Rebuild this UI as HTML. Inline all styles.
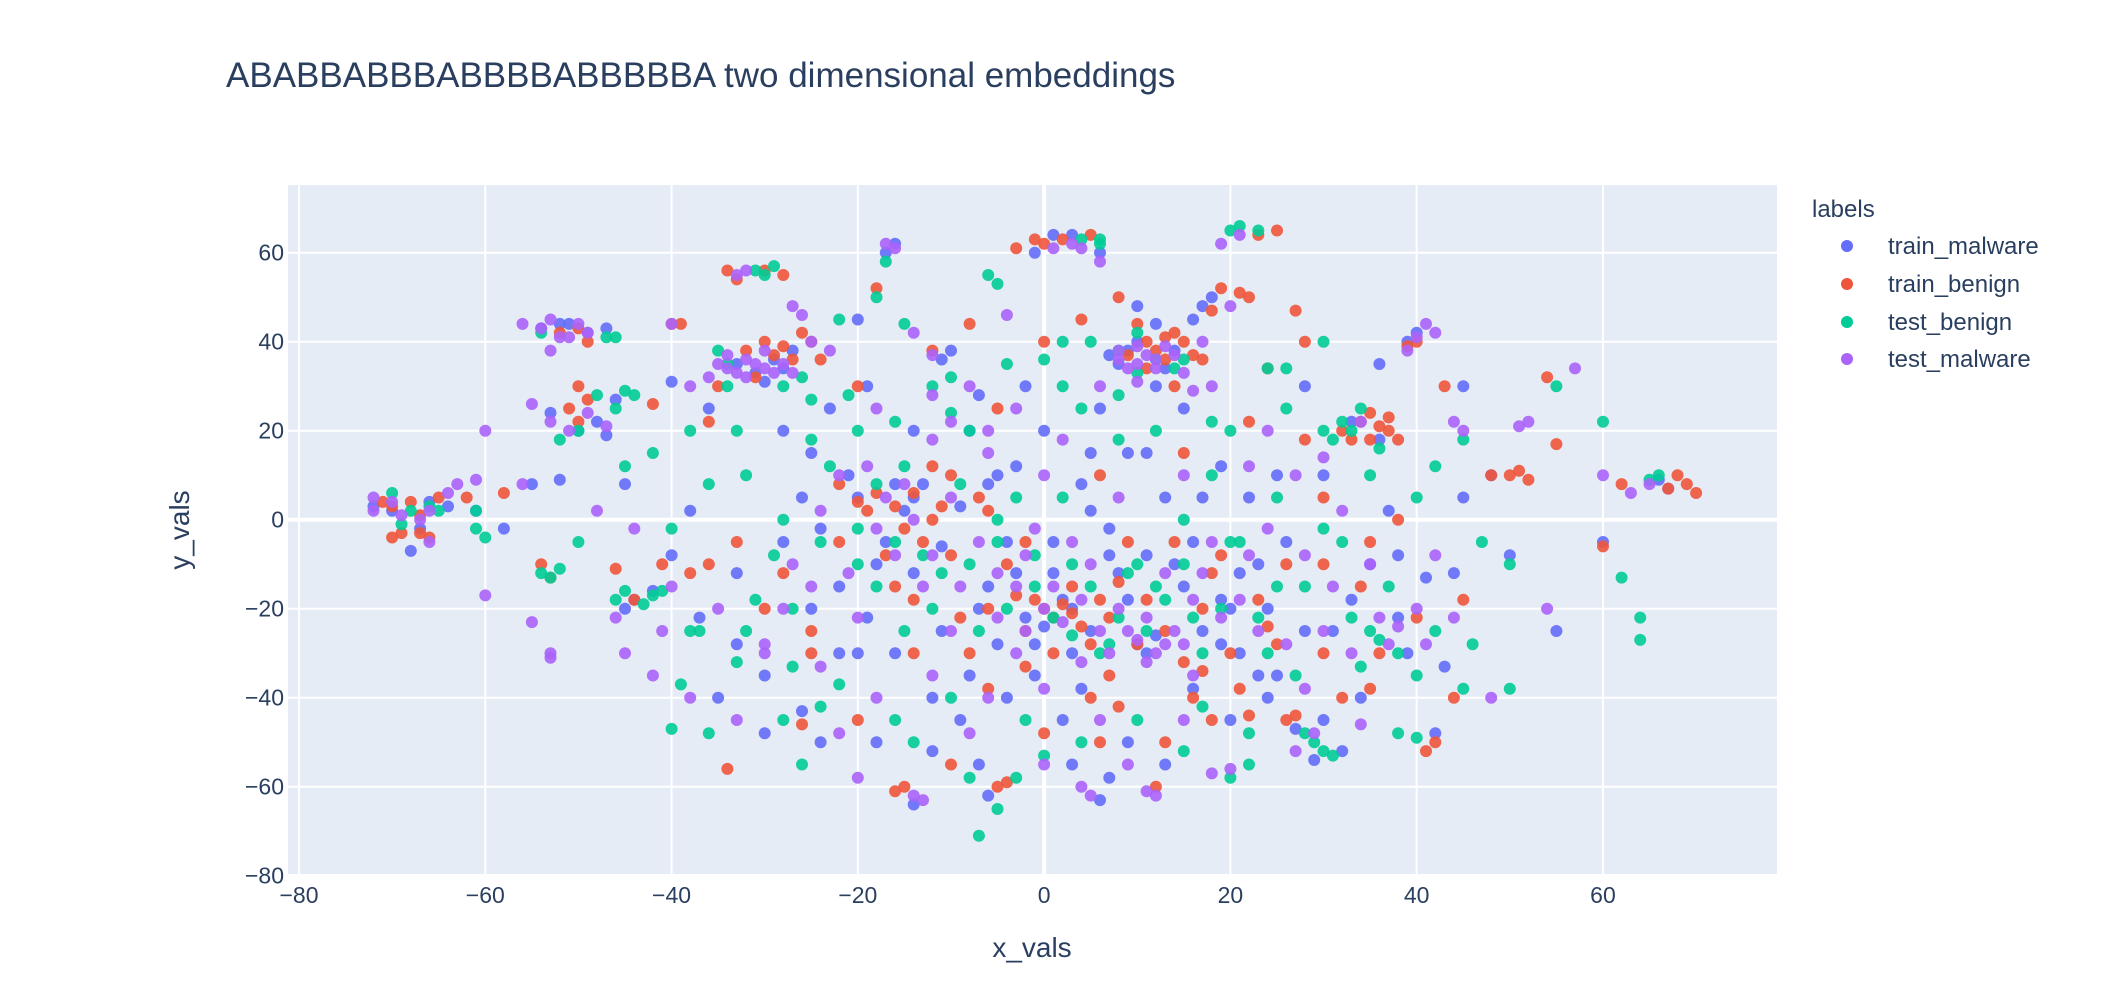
<!DOCTYPE html>
<html><head><meta charset="utf-8"><style>
html,body{margin:0;padding:0;background:#fff}
svg{display:block;font-family:"Liberation Sans",sans-serif}
</style></head><body>
<svg id="chart" width="2110" height="992" xmlns="http://www.w3.org/2000/svg">
<rect x="288" y="185" width="1489" height="689" fill="#e5ecf6"/>
<g id="grid"></g>
<g id="points"></g>
<g id="ticks" fill="#2a3f5f" font-size="23"></g>
<text x="226" y="87" font-size="35" fill="#2a3f5f">ABABBABBBABBBBABBBBBA two dimensional embeddings</text>
<text x="1032" y="957" font-size="28" fill="#2a3f5f" text-anchor="middle">x_vals</text>
<text x="0" y="0" font-size="28" fill="#2a3f5f" text-anchor="middle" transform="translate(189,530) rotate(-90)">y_vals</text>
<g font-size="24" fill="#2a3f5f">
<text x="1812" y="217">labels</text>
<g><circle cx="1847" cy="246" r="6" fill="#636efa"/><text x="1888" y="254">train_malware</text></g>
<g><circle cx="1847" cy="284" r="6" fill="#EF553B"/><text x="1888" y="292">train_benign</text></g>
<g><circle cx="1847" cy="322" r="6" fill="#00cc96"/><text x="1888" y="330">test_benign</text></g>
<g><circle cx="1847" cy="359" r="6" fill="#ab63fa"/><text x="1888" y="367">test_malware</text></g>
</g>
</svg>
<script>
const xTicks = [-80,-60,-40,-20,0,20,40,60];
const yTicks = [-80,-60,-40,-20,0,20,40,60];
const seriesNames = ["train_malware","train_benign","test_benign","test_malware"];
const trainMalware = [[-70,2],[-68,-7],[-66,4],[-67,-2],[-72,3],[-61,2],[-54,43],[-51,44],[-49,42],[-52,44],[-53,24],[-48,22],[-47,19],[-46,27],[-55,8],[-52,9],[-44,-18],[-42,-16],[-45,-20],[-40,-8],[-40,31],[-36,25],[-33,35],[-30,31],[-28,34],[-27,38],[-25,15],[-22,-30],[-20,5],[-18,-10],[-16,62],[-17,60],[-15,2],[-13,8],[-12,-40],[-10,38],[-11,36],[-8,20],[-6,-15],[-4,-5],[-2,30],[-1,60],[1,64],[3,64],[3,-20],[5,-25],[6,-63],[7,-58],[8,35],[10,40],[9,38],[11,-30],[12,30],[14,-10],[16,45],[18,50],[17,48],[20,-45],[22,5],[24,-20],[27,-47],[29,-54],[31,-25],[33,22],[35,-10],[37,2],[38,-22],[40,42],[39,40],[41,-13],[42,-48],[45,5],[48,10],[50,-8],[55,-25],[67,7],[66,9],[-35,-40],[-28,-5],[-24,-50],[-19,-22],[-9,-45],[-1,-35],[7,-8],[9,15],[15,25],[19,12],[25,-35],[30,10],[34,-40],[39,-30],[43,-33],[-38,2],[-45,8],[-58,-2],[13,-55],[-14,-64],[1,-5],[4,8],[-3,12],[17,-25],[21,-30],[26,-5],[-11,-25],[-7,-55],[28,30],[36,35],[45,30],[-20,45],[-26,-43],[2,-18],[0,-24],[-2,-22],[10,-28],[12,-26],[-14,5],[-16,8],[-30,-35],[-33,-28],[5,2],[8,-12],[-6,8],[20,-20],[23,-10],[16,-38],[30,-45],[32,-52],[10,48],[12,44],[6,60],[60,-5],[-8,-35],[-5,-28],[2,-45],[-22,-15],[-25,-20],
[-24,-2],[-21,10],[-17,-5],[-14,-12],[-11,-6],[-9,3],[-7,-20],[-5,10],[-3,-12],[-1,-28],[1,-12],[3,-30],[5,15],[7,-2],[9,-18],[11,-8],[13,5],[15,-15],[17,5],[19,-28],[21,-12],[23,-35],[25,10],[-28,20],[-23,25],[-19,30],[-14,20],[-7,28],[0,20],[6,25],[11,15],[16,-5],[-33,-12],[-37,-22],[-30,-48],[-18,-50],[-6,-62],[3,-55],[9,-50],[14,38],[7,37],[13,34],[-29,36],[-31,33],[36,18],[33,-18],[38,-8],[44,-12],[-64,3],[-50,20],[-47,43],[-16,-30],[-12,-52],[19,-18],[24,-40],[28,-25],[-4,-40],[4,-38],[-26,5],[-20,-30]];
const trainBenign = [[-70,3],[-69,-3],[-68,4],[-67,1],[-66,-4],[-71,4],[-65,5],[-62,5],[-58,6],[-54,-10],[-53,-13],[-52,42],[-50,43],[-49,40],[-51,25],[-50,22],[-49,27],[-44,-18],[-40,44],[-39,44],[-35,30],[-34,56],[-33,54],[-30,56],[-28,55],[-32,38],[-30,40],[-29,37],[-27,36],[-26,42],[-25,40],[-22,-5],[-20,4],[-18,6],[-16,3],[-15,-2],[-14,6],[-12,0],[-13,-5],[-10,-8],[-16,-61],[-15,-60],[-5,-60],[-4,-59],[-1,63],[0,62],[-3,61],[5,64],[8,50],[10,44],[11,40],[12,38],[13,36],[14,42],[16,37],[14,30],[18,47],[19,52],[21,51],[22,50],[23,64],[25,65],[27,47],[24,34],[28,40],[30,-10],[33,18],[34,22],[35,24],[36,21],[37,20],[38,18],[35,-5],[39,39],[40,40],[38,0],[43,30],[48,10],[50,10],[51,11],[52,9],[54,32],[55,17],[60,-6],[62,8],[67,7],[69,8],[70,6],[68,10],[-1,-18],[0,-20],[1,-22],[2,-19],[3,-21],[-2,-25],[4,-24],[-3,-17],[-6,-20],[6,-18],[8,-14],[10,-28],[12,-60],[13,-50],[16,-40],[17,-34],[20,-30],[22,-44],[26,-45],[27,-44],[42,-50],[41,-52],[-34,-56],[-26,-46],[-30,-20],[-38,-12],[-42,26],[-46,-11],[-36,22],[-20,30],[-10,10],[-8,-30],[5,-40],[7,-35],[15,15],[18,-12],[24,-24],[30,-30],[35,-38],[45,-18],[30,5],[22,22],[6,10],[-25,-30],[-33,-5],[-6,2],[-5,25],[0,40],[-12,38],[4,45],[-8,44],[-18,52],
[-22,8],[-19,2],[-17,-8],[-14,-18],[-11,3],[-9,-22],[-7,5],[-4,-10],[-2,-5],[1,-30],[3,-15],[5,-28],[7,-22],[9,-5],[11,-18],[13,-25],[15,-32],[17,-20],[19,-8],[21,-38],[23,-18],[25,-28],[-25,-25],[-28,-12],[-31,32],[-28,39],[-24,36],[9,37],[11,34],[13,41],[15,40],[17,36],[-16,-15],[-12,12],[-20,-45],[-10,-55],[0,-48],[8,-42],[14,-5],[32,20],[35,18],[37,23],[34,-15],[36,-30],[40,-22],[26,-10],[28,18],[-36,-10],[-41,-10],[-50,30],[-70,-4],[-67,-3],[2,63],[18,-45],[-2,-33],[-6,-38],[6,-50],[44,-40],[32,-40],[-14,-30]];
const testBenign = [[-70,6],[-68,2],[-66,3],[-69,-1],[-61,-2],[-60,-4],[-61,2],[-54,-12],[-53,-13],[-52,-11],[-54,42],[-47,41],[-46,41],[-45,29],[-46,25],[-44,28],[-50,20],[-52,18],[-46,-18],[-45,-16],[-42,-17],[-43,-19],[-41,-16],[-39,-37],[-40,-47],[-37,-25],[-35,38],[-34,30],[-30,55],[-31,56],[-29,57],[-33,20],[-28,30],[-26,32],[-25,27],[-22,45],[-18,50],[-17,58],[-15,44],[-12,30],[-10,24],[-8,20],[-6,55],[-5,53],[-7,-71],[-5,-65],[-3,-58],[4,63],[6,63],[6,62],[2,40],[0,36],[4,25],[8,38],[10,33],[12,36],[14,34],[18,22],[20,65],[21,66],[23,65],[24,34],[26,34],[30,40],[28,-48],[30,-52],[31,-53],[29,-50],[32,22],[33,20],[31,18],[35,-25],[36,-27],[34,-33],[38,-48],[40,-49],[50,-10],[50,-38],[55,30],[60,22],[62,-13],[64,-22],[64,-27],[66,10],[65,9],[20,-58],[22,-55],[17,-42],[12,-15],[10,-10],[8,-22],[6,-30],[3,-10],[-1,-15],[-4,-20],[-8,-10],[-12,-20],[-15,-25],[-18,-15],[-20,-10],[-24,-5],[-28,0],[-31,-18],[-33,-32],[-22,-37],[-28,-45],[-14,-50],[-10,-40],[-2,-45],[4,-50],[15,0],[20,-5],[25,5],[28,-15],[32,-5],[38,-30],[40,-35],[45,-38],[47,-5],[40,5],[45,18],[42,12],[35,10],[-36,8],[-40,-2],[-45,12],[-20,20],[-15,12],[-5,0],[2,5],[8,18],[16,-22],[24,-30],[18,10],[-26,-55],[-36,-48],[0,-53],[10,-45],[-32,10],[-38,20],[-50,-5],
[-23,12],[-20,-2],[-18,8],[-16,-5],[-13,-8],[-11,-12],[-9,8],[-7,-25],[-5,-5],[-3,5],[-1,-8],[1,-22],[3,-26],[5,-15],[7,-28],[9,-12],[11,-25],[13,-18],[15,-10],[17,-30],[19,-20],[21,-5],[23,-22],[25,-15],[-27,-20],[-29,-8],[-32,-25],[-25,18],[-21,28],[-16,22],[-10,32],[-4,35],[2,30],[8,28],[12,20],[20,20],[26,25],[30,20],[34,25],[36,16],[30,-2],[33,-22],[37,-15],[42,-25],[46,-28],[27,-35],[22,-48],[15,-52],[-8,-58],[-16,-45],[-24,-42],[-38,-25],[-42,15],[-48,28],[-65,2],[5,40],[15,36],[10,42],[-34,35],[-27,-33]];
const testMalware = [[-72,5],[-72,2],[-67,0],[-66,-5],[-69,1],[-64,6],[-63,8],[-61,9],[-60,20],[-60,-17],[-56,44],[-54,43],[-53,45],[-52,41],[-53,38],[-51,41],[-50,44],[-55,26],[-53,22],[-51,20],[-49,24],[-47,21],[-53,-30],[-53,-31],[-55,-23],[-56,8],[-48,2],[-44,-2],[-41,-25],[-40,44],[-38,30],[-36,32],[-35,35],[-34,34],[-33,33],[-32,36],[-31,35],[-30,34],[-29,33],[-33,55],[-32,56],[-27,48],[-26,46],[-25,40],[-23,38],[-17,62],[-16,61],[-14,42],[-12,37],[-10,22],[-8,30],[-4,46],[-3,25],[1,61],[3,62],[4,61],[6,58],[8,36],[9,34],[10,35],[11,37],[12,36],[13,39],[15,33],[16,29],[19,62],[21,64],[20,48],[24,-2],[27,10],[34,-46],[40,41],[41,44],[42,42],[39,38],[44,22],[45,20],[51,21],[52,22],[57,34],[54,-20],[-20,-58],[-14,-62],[-13,-63],[5,-62],[4,-60],[12,-62],[11,-61],[18,-57],[20,-56],[-30,-30],[-30,-28],[65,8],[63,6],[60,10],[-27,-10],[-18,-2],[-15,8],[-13,-15],[-10,-25],[-5,-12],[-2,-8],[0,-20],[2,-23],[4,-18],[6,-25],[8,-20],[10,-27],[12,-30],[13,-28],[14,-25],[11,-32],[16,-18],[18,-5],[22,-8],[26,-28],[28,-38],[30,-25],[33,-30],[36,-22],[38,-24],[40,-20],[42,-8],[44,-22],[48,-40],[35,-10],[32,2],[30,14],[22,12],[15,10],[8,5],[0,10],[-6,15],[-12,18],[-18,25],[-22,10],[-25,-15],[-35,-20],[-38,-40],[-42,-35],[-45,-30],[-33,-45],[-24,-33],[-18,-40],[-8,-48],[0,-38],[6,-45],[15,-45],[-3,-30],[-20,-22],
[-24,2],[-21,-12],[-19,12],[-17,5],[-16,-8],[-14,0],[-12,-8],[-10,5],[-9,-15],[-7,-5],[-5,-22],[-3,-15],[-1,-2],[1,-15],[3,-5],[5,-10],[7,-30],[9,-25],[11,-22],[13,-12],[15,-28],[17,-12],[19,-22],[21,-18],[23,-25],[-28,-20],[-30,38],[-28,35],[-32,32],[-34,37],[-27,33],[8,38],[10,39],[12,34],[14,37],[10,31],[17,40],[-12,28],[-6,20],[2,18],[6,30],[18,30],[24,20],[28,-8],[31,-15],[34,22],[37,-28],[41,-28],[29,-48],[27,-52],[-6,-40],[-12,-35],[0,-55],[9,-55],[-22,-48],[-40,-15],[-46,-22],[-66,2],[-70,4],[-49,42],[16,-35],[4,-32],[-2,-25]];
const seriesData = [trainMalware, trainBenign, testBenign, testMalware];
const seriesColors = ["#636efa","#EF553B","#00cc96","#ab63fa"];

const NS = "http://www.w3.org/2000/svg";
const PX0 = 299, PXU = 9.314, PY0 = 519.7, PYU = 4.45;
const L = 288, R = 1777, T = 185, B = 874;
function sx(v){ return PX0 + (v + 80) * PXU; }
function sy(v){ return PY0 - v * PYU; }

const grid = document.getElementById('grid');
const ticks = document.getElementById('ticks');
xTicks.forEach(v => {
  const x = sx(v);
  const ln = document.createElementNS(NS, 'line');
  
  
  ln.setAttribute('x1', x); ln.setAttribute('x2', x);
  ln.setAttribute('y1', T); ln.setAttribute('y2', B);
  ln.setAttribute('stroke', '#fff'); ln.setAttribute('stroke-width', v === 0 ? 4 : 2);
  grid.appendChild(ln);
  const t = document.createElementNS(NS, 'text');
  
  
  t.setAttribute('x', x); t.setAttribute('y', 903);
  t.setAttribute('text-anchor', 'middle');
  t.textContent = v < 0 ? '\u2212' + Math.abs(v) : String(v);
  ticks.appendChild(t);
});
yTicks.forEach(v => {
  const y = sy(v);
  const ln = document.createElementNS(NS, 'line');
  
  
  ln.setAttribute('x1', L); ln.setAttribute('x2', R);
  ln.setAttribute('y1', y); ln.setAttribute('y2', y);
  ln.setAttribute('stroke', '#fff'); ln.setAttribute('stroke-width', v === 0 ? 4 : 2);
  grid.appendChild(ln);
  const t = document.createElementNS(NS, 'text');
  
  
  t.setAttribute('x', 284); t.setAttribute('y', y + 8);
  t.setAttribute('text-anchor', 'end');
  t.textContent = v < 0 ? '\u2212' + Math.abs(v) : String(v);
  ticks.appendChild(t);
});

const pts = document.getElementById('points');
seriesData.forEach((arr, i) => {
  const g = document.createElementNS(NS, 'g');
  
  
  g.setAttribute('fill', seriesColors[i]);
  arr.forEach(p => {
    const c = document.createElementNS(NS, 'circle');
    
    
    c.setAttribute('cx', sx(p[0]).toFixed(1));
    c.setAttribute('cy', sy(p[1]).toFixed(1));
    c.setAttribute('r', 6);
    c.setAttribute('opacity', 0.9);
    g.appendChild(c);
  });
  pts.appendChild(g);
});
</script>
</body></html>
